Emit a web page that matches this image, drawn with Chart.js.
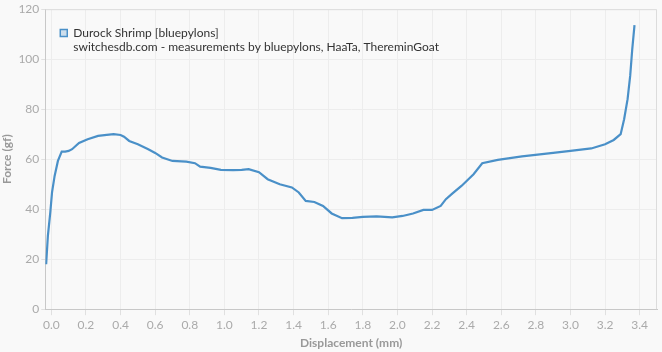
<!DOCTYPE html>
<html>
<head>
<meta charset="utf-8">
<script src="https://cdn.jsdelivr.net/npm/chart.js@4/dist/chart.umd.min.js"></script>
<style>
  html, body { margin: 0; padding: 0; background: #f9f9f9; }
  #wrap { width: 662px; height: 352px; }
</style>
</head>
<body>
<div id="wrap"><canvas id="c" width="662" height="352"></canvas></div>
<script>
const seriesName = "Durock Shrimp [bluepylons]";
const sourceNote = "switchesdb.com - measurements by bluepylons, HaaTa, ThereminGoat";
const xTitle = "Displacement (mm)";
const yTitle = "Force (gf)";

const displacement = [-0.03, -0.02, -0.006, 0.004, 0.019, 0.038, 0.06, 0.08, 0.1, 0.12, 0.16, 0.21, 0.27, 0.32, 0.36, 0.4, 0.42, 0.45, 0.5, 0.56, 0.6, 0.64, 0.7, 0.78, 0.83, 0.86, 0.92, 0.98, 1.05, 1.1, 1.14, 1.2, 1.25, 1.32, 1.39, 1.43, 1.47, 1.52, 1.57, 1.62, 1.68, 1.74, 1.8, 1.88, 1.97, 2.03, 2.09, 2.15, 2.2, 2.25, 2.28, 2.32, 2.37, 2.44, 2.49, 2.58, 2.72, 2.9, 3.0, 3.12, 3.2, 3.25, 3.29, 3.31, 3.33, 3.345, 3.357, 3.37];
const force = [18, 29.3, 38.7, 46.7, 53.3, 59.3, 63, 63, 63.3, 64, 66.5, 68, 69.3, 69.7, 70, 69.7, 69, 67.3, 66, 64, 62.5, 60.7, 59.3, 59, 58.4, 57, 56.5, 55.7, 55.6, 55.7, 56, 54.8, 52, 50, 48.7, 46.7, 43.3, 42.9, 41.3, 38.3, 36.4, 36.5, 36.9, 37.1, 36.7, 37.3, 38.3, 39.7, 39.7, 41.3, 44, 46.4, 49.3, 54, 58.4, 59.7, 61.1, 62.5, 63.3, 64.3, 66, 67.7, 70, 76, 84, 93.3, 104, 113.6];

const xTicks = [0.0, 0.2, 0.4, 0.6, 0.8, 1.0, 1.2, 1.4, 1.6, 1.8, 2.0, 2.2, 2.4, 2.6, 2.8, 3.0, 3.2, 3.4];
const yTicks = [0, 20, 40, 60, 80, 100, 120];

const points = displacement.map((x, i) => ({ x: x, y: force[i] }));

const FONT = "Lato, 'Open Sans', sans-serif";
const LINE = "#4a90c8";

const frame = {
  id: 'frame',
  beforeDraw(chart) {
    const ctx = chart.ctx;
    ctx.save();
    ctx.fillStyle = '#f9f9f9';
    ctx.fillRect(0, 0, chart.width, chart.height);
    ctx.restore();
  },
  afterDatasetsDraw(chart) {
    const a = chart.chartArea, ctx = chart.ctx;
    ctx.save();
    ctx.strokeStyle = '#dcdcdc';
    ctx.lineWidth = 1;
    ctx.beginPath();
    ctx.moveTo(a.left, a.top + 0.5);
    ctx.lineTo(a.right - 0.5, a.top + 0.5);
    ctx.lineTo(a.right - 0.5, a.bottom);
    ctx.stroke();
    ctx.restore();
  }
};

new Chart(document.getElementById('c'), {
  type: 'scatter',
  data: {
    datasets: [{
      label: seriesName,
      data: points,
      showLine: true,
      borderColor: LINE,
      backgroundColor: 'rgba(74,144,200,0.25)',
      borderWidth: 2.2,
      pointRadius: 0,
      tension: 0
    }]
  },
  options: {
    responsive: false,
    animation: false,
    devicePixelRatio: 1,
    layout: { padding: { top: 5, right: 5, left: 0, bottom: 0 } },
    plugins: {
      tooltip: { enabled: false },
      legend: {
        position: 'chartArea',
        align: 'start',
        title: { display: true, text: '', font: { size: 1, lineHeight: 1 }, padding: { top: 11, bottom: 0 } },
        labels: {
          boxWidth: 7,
          boxHeight: 7,
          padding: 15,
          color: '#333',
          font: { family: FONT, size: 12, lineHeight: 1.17 },
          generateLabels(chart) {
            return [{
              text: [seriesName, sourceNote],
              fillStyle: 'rgba(74,144,200,0.25)',
              strokeStyle: LINE,
              lineWidth: 1.5,
              datasetIndex: 0,
              hidden: false,
              fontColor: '#333'
            }];
          }
        }
      }
    },
    scales: {
      x: {
        type: 'linear',
        min: -0.035,
        max: 3.5,
        afterBuildTicks(scale) {
          scale.ticks = xTicks.map(v => ({ value: v }));
        },
        ticks: {
          color: '#aaa',
          font: { family: FONT, size: 12 },
          callback: v => Number(v).toFixed(1),
          maxRotation: 0,
          autoSkip: false,
          padding: 3
        },
        grid: { color: '#ededed', tickColor: '#e0e0e0', tickLength: 6 },
        border: { color: '#c8c8c8' },
        title: { display: true, text: xTitle, color: '#999', font: { family: FONT, size: 12, weight: 'bold' }, padding: { top: 0, bottom: 2 } }
      },
      y: {
        type: 'linear',
        min: 0,
        max: 120,
        afterBuildTicks(scale) {
          scale.ticks = yTicks.map(v => ({ value: v }));
        },
        ticks: {
          color: '#aaa',
          font: { family: FONT, size: 12 },
          padding: 2
        },
        grid: { color: '#ededed', tickColor: '#e0e0e0', tickLength: 4 },
        border: { color: '#c8c8c8' },
        title: { display: true, text: yTitle, color: '#999', font: { family: FONT, size: 12, weight: 'bold' }, padding: { top: 0, bottom: 2 } }
      }
    }
  },
  plugins: [frame]
});
</script>
</body>
</html>
